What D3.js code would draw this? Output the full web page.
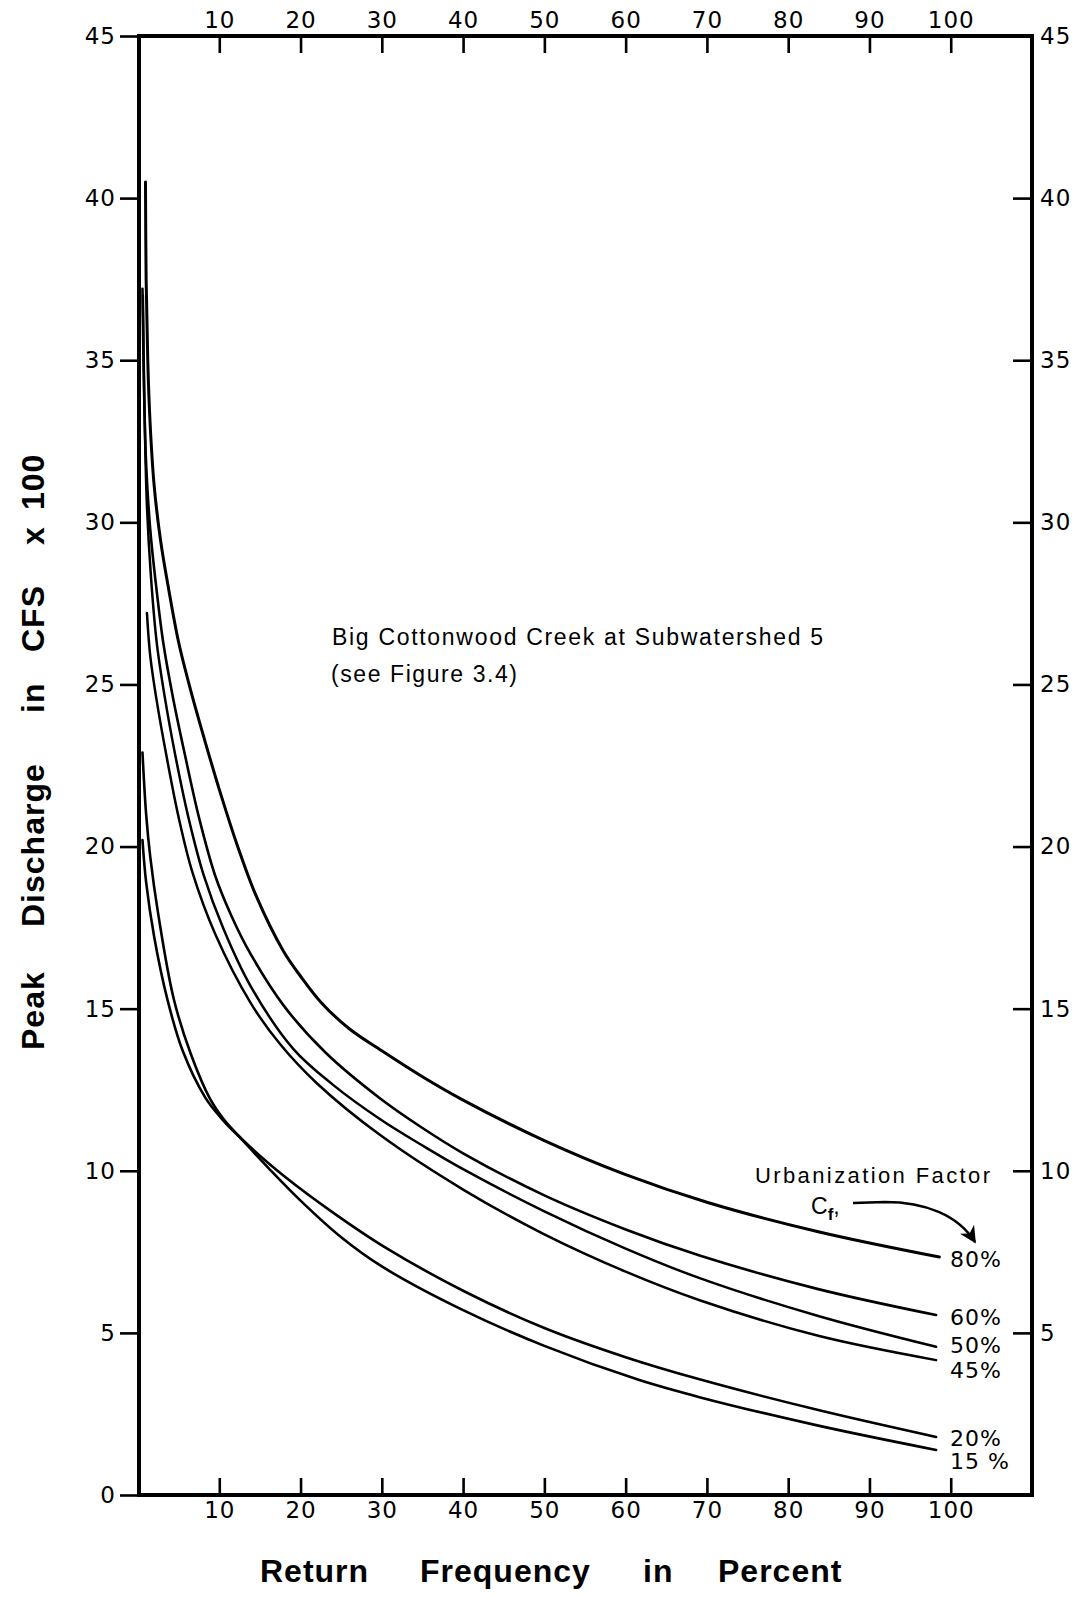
<!DOCTYPE html>
<html>
<head>
<meta charset="utf-8">
<script src="https://cdn.jsdelivr.net/npm/d3@7"></script>
<style>
  html, body { margin: 0; padding: 0; background: #fff; }
  svg { display: block; }
  text { fill: #000; font-family: "Liberation Sans", Arial, sans-serif; }
</style>
</head>
<body>
<svg id="chart" width="1078" height="1598"></svg>
<script>
// ---------- data ----------
const xTickValues = [10, 20, 30, 40, 50, 60, 70, 80, 90, 100];
const yTickValuesLeft = [0, 5, 10, 15, 20, 25, 30, 35, 40, 45];
const yTickValuesRight = [5, 10, 15, 20, 25, 30, 35, 40, 45];

const seriesNames = ["80%", "60%", "50%", "45%", "20%", "15 %"];

// [return frequency %, peak discharge (CFS x 100)]
const cf80 = [[0.92,40.5],[1.0,37.5],[1.2,35],[1.5,33],[2.0,31.1],[2.8,29.4],[3.8,27.9],[5.0,26.3],[6.5,24.8],[8.3,23.2],[10.2,21.6],[12.2,20.05],[14.5,18.5],[17.9,16.77],[20,16.0],[22.5,15.2],[26,14.38],[30,13.7],[35,12.9],[40,12.18],[50,10.93],[60,9.88],[70,9.03],[83.7,8.12],[98.6,7.34]];
const cf60 = [[0.55,37.2],[0.75,34],[1.0,31.8],[1.5,29.8],[2.2,28.1],[3.1,26.3],[4.3,24.6],[5.8,22.8],[7.5,20.9],[9.5,19.1],[11.5,17.86],[13.8,16.71],[18,15.07],[23.1,13.64],[29.8,12.23],[35,11.32],[40,10.54],[50,9.24],[60,8.19],[69.2,7.38],[83.7,6.35],[98.2,5.55]];
const cf50 = [[0.6,37.0],[0.8,33.5],[1.1,30.5],[1.6,28.3],[2.3,26.3],[3.3,24.6],[4.6,22.8],[6.2,20.9],[8.1,19.1],[10.5,17.47],[13.8,15.72],[19.1,13.76],[24,12.65],[29.8,11.59],[35,10.78],[40,10.05],[50,8.75],[60,7.6],[69.2,6.68],[83.7,5.52],[98.2,4.57]];
const cf45 = [[1.1,27.2],[1.5,25.9],[2.3,24.5],[3.5,22.8],[5.0,20.9],[6.7,19.2],[9.5,17.3],[13.8,15.2],[17.5,13.9],[22,12.7],[29.8,11.1],[40,9.42],[50,8.04],[60,6.89],[69.2,6.0],[83.7,4.91],[98.2,4.16]];
const cf20 = [[0.55,22.9],[1.0,21.0],[1.5,19.7],[2.5,17.9],[4.4,15.3],[6.5,13.6],[8.9,12.2],[10.5,11.6],[12.9,10.95],[18,9.83],[24,8.71],[30.2,7.67],[40,6.3],[50,5.15],[60,4.25],[69.2,3.56],[83.7,2.62],[98.2,1.79]];
const cf15 = [[0.55,20.2],[1.0,18.9],[2.0,17.2],[3.6,15.3],[5.5,13.7],[8.3,12.25],[10.5,11.55],[12.9,10.93],[16,10.1],[20,9.08],[25,7.95],[30,7.05],[40,5.7],[50,4.6],[61.5,3.56],[69.2,3.01],[83.7,2.14],[98.2,1.39]];

const seriesData = [cf80, cf60, cf50, cf45, cf20, cf15];

// ---------- layout ----------
const svg = d3.select("#chart");
const frame = { left: 139, right: 1032, top: 36, bottom: 1495 };
const x = d3.scaleLinear().domain([0, 110]).range([138, 1032]);
const y = d3.scaleLinear().domain([0, 45]).range([frame.bottom, frame.top]);

const tickFont = "23px";
const labelDy = [10, 10, 6, 18, 9, 19];     // label baseline nudge (px) below line end
const lineWidths = [3, 2.6, 2.5, 2.5, 2.6, 2.6];

function styleAxis(g) {
  g.select(".domain").remove();
  g.selectAll(".tick line").attr("stroke", "#000").attr("stroke-width", 2.6);
  g.selectAll(".tick text")
    .attr("fill", "#000")
    .style("font-family", "\"DejaVu Sans\", \"Liberation Sans\", sans-serif")
    .style("font-size", tickFont)
    .style("letter-spacing", "1px");
}

// left axis (ticks outward)
svg.append("g")
  .attr("transform", `translate(${frame.left},0)`)
  .call(d3.axisLeft(y).tickValues(yTickValuesLeft).tickSize(19).tickPadding(4).tickFormat(d3.format("d")))
  .call(styleAxis);

// right axis (ticks inward, labels outside)
svg.append("g")
  .attr("transform", `translate(${frame.right},0)`)
  .call(d3.axisRight(y).tickValues(yTickValuesRight).tickSize(-19).tickPadding(8).tickFormat(d3.format("d")))
  .call(styleAxis);

// top axis (ticks inward)
svg.append("g")
  .attr("transform", `translate(0,${frame.top})`)
  .call(d3.axisTop(x).tickValues(xTickValues).tickSize(-17).tickPadding(8).tickFormat(d3.format("d")))
  .call(styleAxis);

// bottom axis (ticks inward)
svg.append("g")
  .attr("transform", `translate(0,${frame.bottom})`)
  .call(d3.axisBottom(x).tickValues(xTickValues).tickSize(-17).tickPadding(7).tickFormat(d3.format("d")))
  .call(styleAxis);

// frame
svg.append("rect")
  .attr("x", frame.left).attr("y", frame.top)
  .attr("width", frame.right - frame.left).attr("height", frame.bottom - frame.top)
  .attr("fill", "none").attr("stroke", "#000").attr("stroke-width", 4);

// curves
const line = d3.line()
  .x(d => x(d[0]))
  .y(d => y(d[1]))
  .curve(d3.curveCatmullRom.alpha(0.5));

svg.append("g").selectAll("path")
  .data(seriesData)
  .join("path")
  .attr("d", line)
  .attr("fill", "none")
  .attr("stroke", "#000")
  .attr("stroke-width", (d, i) => lineWidths[i])
  .attr("stroke-linecap", "round")
  .attr("stroke-linejoin", "round");

// series labels at the line ends
svg.append("g").selectAll("text")
  .data(seriesData)
  .join("text")
  .attr("x", 950)
  .attr("y", (d, i) => y(d[d.length - 1][1]) + labelDy[i])
  .style("font-family", "\"DejaVu Sans\", \"Liberation Sans\", sans-serif")
  .style("font-size", "22px")
  .style("letter-spacing", "1px")
  .text((d, i) => seriesNames[i]);

// annotation block
const ann = svg.append("g");
ann.append("text")
  .attr("x", 332).attr("y", 645)
  .attr("textLength", 491).attr("lengthAdjust", "spacing")
  .style("font-size", "23px")
  .text("Big Cottonwood Creek at Subwatershed 5");
ann.append("text")
  .attr("x", 331).attr("y", 682)
  .attr("textLength", 186).attr("lengthAdjust", "spacing")
  .style("font-size", "23px")
  .text("(see Figure 3.4)");

ann.append("text")
  .attr("x", 755).attr("y", 1183)
  .attr("textLength", 235).attr("lengthAdjust", "spacing")
  .style("font-size", "22px")
  .text("Urbanization Factor");
const cf = ann.append("text").attr("x", 811).attr("y", 1214).style("font-size", "23px");
cf.append("tspan").text("C");
cf.append("tspan").attr("dy", 6).style("font-size", "17px").style("font-weight", "bold").text("f");
cf.append("tspan").attr("dy", -6).text(",");

// arrow
svg.append("defs").append("marker")
  .attr("id", "arrowhead")
  .attr("viewBox", "0 0 10 10")
  .attr("refX", 9).attr("refY", 5)
  .attr("markerWidth", 7).attr("markerHeight", 7)
  .attr("markerUnits", "strokeWidth")
  .attr("orient", "auto")
  .append("path").attr("d", "M0,0 L10,5 L0,10 L3,5 Z").attr("fill", "#000");
ann.append("path")
  .attr("d", "M853,1203 L885,1202 C925,1202 958,1215 975,1242")
  .attr("fill", "none").attr("stroke", "#000").attr("stroke-width", 2.4)
  .attr("marker-end", "url(#arrowhead)");

// axis titles
const titleStyle = s => s.style("font-size", "32px").style("font-weight", "bold").style("letter-spacing", "1px");
const xTitleWords = [["Return", 260], ["Frequency", 420], ["in", 643], ["Percent", 718]];
xTitleWords.forEach(([w, px]) => {
  svg.append("text").attr("x", px).attr("y", 1582).call(titleStyle).text(w);
});
const yTitleWords = [["Peak", 1050], ["Discharge", 927], ["in", 713], ["CFS", 652], ["x", 545], ["100", 510]];
yTitleWords.forEach(([w, py]) => {
  svg.append("text")
    .attr("transform", `translate(44,${py}) rotate(-90)`)
    .call(titleStyle).text(w);
});
</script>
</body>
</html>
